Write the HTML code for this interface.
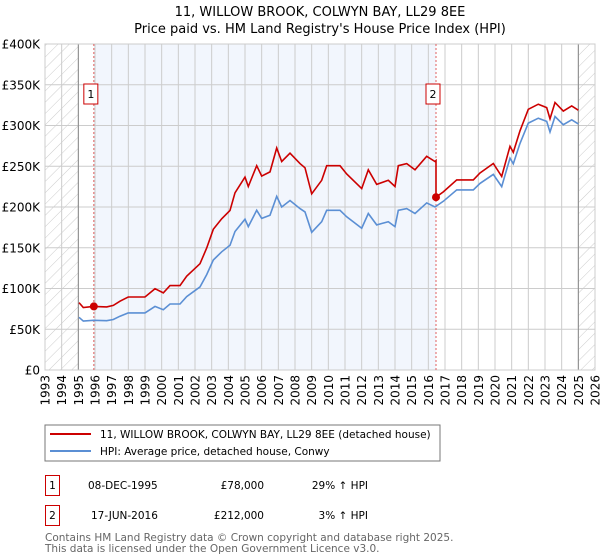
<!DOCTYPE html>
<html><head><meta charset="utf-8"><style>
body{margin:0;background:#fff;font-family:"Liberation Sans","DejaVu Sans",sans-serif;}
#wrap{position:relative;width:600px;height:560px;overflow:hidden;}
svg text{font-family:"DejaVu Sans","Liberation Sans",sans-serif;}
</style></head><body>
<div id="wrap">
<svg id="chart" width="600" height="560" xmlns="http://www.w3.org/2000/svg">
<defs>
<pattern id="hatch" patternUnits="userSpaceOnUse" width="8" height="8" patternTransform="rotate(45)">
<line x1="0" y1="0" x2="0" y2="8" stroke="#ccc" stroke-width="1"/>
</pattern>
</defs>
<text x="320" y="16" text-anchor="middle" font-size="13" fill="#000">11, WILLOW BROOK, COLWYN BAY, LL29 8EE</text>
<text x="320" y="33" text-anchor="middle" font-size="13" fill="#000">Price paid vs. HM Land Registry's House Price Index (HPI)</text>
<g id="plot"></g>
<rect x="45" y="425" width="395" height="36" fill="#fff" stroke="#777"/>
<line x1="50" y1="434" x2="91" y2="434" stroke="#cc0000" stroke-width="2"/>
<text x="100" y="438" font-size="10.5">11, WILLOW BROOK, COLWYN BAY, LL29 8EE (detached house)</text>
<line x1="50" y1="451" x2="91" y2="451" stroke="#5b8fd4" stroke-width="2"/>
<text x="100" y="455" font-size="10.5">HPI: Average price, detached house, Conwy</text>
<g>
<rect x="45.5" y="475.5" width="14" height="20" fill="none" stroke="#cc0000"/>
<text x="52.5" y="489" text-anchor="middle" font-size="10.5">1</text>
<text x="88" y="489" font-size="10.5">08-DEC-1995</text>
<text x="264" y="489" text-anchor="end" font-size="10.5">£78,000</text>
<text x="368" y="489" text-anchor="end" font-size="10.5">29% ↑ HPI</text>
</g>
<g>
<rect x="45.5" y="505.5" width="14" height="20" fill="none" stroke="#cc0000"/>
<text x="52.5" y="519" text-anchor="middle" font-size="10.5">2</text>
<text x="91" y="519" font-size="10.5">17-JUN-2016</text>
<text x="264" y="519" text-anchor="end" font-size="10.5">£212,000</text>
<text x="368" y="519" text-anchor="end" font-size="10.5">3% ↑ HPI</text>
</g>
<text x="45" y="541" font-size="10.5" fill="#666">Contains HM Land Registry data © Crown copyright and database right 2025.</text>
<text x="45" y="552" font-size="10.5" fill="#666">This data is licensed under the Open Government Licence v3.0.</text>
</svg>
</div>
<script>
const hpiYears=[1995.04,1995.3,1995.9,1996.7,1997.1,1997.5,1998.0,1999.0,1999.6,2000.1,2000.5,2001.1,2001.5,2002.1,2002.3,2002.7,2003.1,2003.6,2004.1,2004.4,2005.0,2005.2,2005.7,2006.0,2006.5,2006.9,2007.2,2007.7,2008.3,2008.6,2009.0,2009.6,2009.9,2010.7,2011.1,2012.0,2012.4,2012.9,2013.6,2014.0,2014.2,2014.7,2015.2,2015.9,2016.4,2016.9,2017.7,2018.7,2019.1,2019.9,2020.4,2020.9,2021.1,2021.5,2022.0,2022.6,2023.1,2023.3,2023.6,2024.1,2024.6,2025.0];
const hpiValues=[64.7,60,61,60.5,62,66,70,70,78,74,81,81,90,99,102,117,135,145,153,170,185,176,196,186,190,213,200,208,198,194,169,182,196,196,188,174,192,178,182,176,196,198,192,205,200,207,221,221,229,240,225,260,253,278,303,309,305,292,311,301,307,302];
const saleYears=[1995.93,2016.46];
const salePrices=[78,212];
const yTicks=[0,50,100,150,200,250,300,350,400];
const yTickLabels=["£0","£50K","£100K","£150K","£200K","£250K","£300K","£350K","£400K"];
const xTicks=[1993,1994,1995,1996,1997,1998,1999,2000,2001,2002,2003,2004,2005,2006,2007,2008,2009,2010,2011,2012,2013,2014,2015,2016,2017,2018,2019,2020,2021,2022,2023,2024,2025,2026];

const X0=45,X1=595,Y0=370,Y1=44;
const xs=y=>X0+(y-1993)/(2026-1993)*(X1-X0);
const ys=v=>Y0-v/400*(Y0-Y1);
const NS="http://www.w3.org/2000/svg";
const plot=document.getElementById('plot');
function mk(tag,attrs,parent){const e=document.createElementNS(NS,tag);for(const k in attrs)e.setAttribute(k,attrs[k]);(parent||plot).appendChild(e);return e;}
function interp(yr){if(yr<=hpiYears[0])return hpiValues[0];for(let i=1;i<hpiYears.length;i++){if(yr<=hpiYears[i]){const t=(yr-hpiYears[i-1])/(hpiYears[i]-hpiYears[i-1]);return hpiValues[i-1]+t*(hpiValues[i]-hpiValues[i-1]);}}return hpiValues[hpiValues.length-1];}

const bg=mk('rect',{x:X0,y:Y1,width:X1-X0,height:Y0-Y1,fill:'#fff'});


const shade=mk('rect',{x:xs(saleYears[0]),y:Y1,width:xs(saleYears[1])-xs(saleYears[0]),height:Y0-Y1,fill:'#f2f6fd'});


const h1=mk('rect',{x:X0,y:Y1,width:xs(1995)-X0,height:Y0-Y1,fill:'url(#hatch)'});


const h2=mk('rect',{x:xs(2025),y:Y1,width:X1-xs(2025),height:Y0-Y1,fill:'url(#hatch)'});



yTicks.forEach((v,i)=>{
  const l=mk('line',{x1:X0,x2:X1,y1:ys(v),y2:ys(v),stroke:'#ccc','stroke-width':1});
  
  
  const t=mk('text',{x:40,y:ys(v)+4.5,'text-anchor':'end','font-size':12,fill:'#000'});
  
  
  t.textContent=yTickLabels[i];
});
xTicks.forEach(yr=>{
  const l=mk('line',{x1:xs(yr),x2:xs(yr),y1:Y1,y2:Y0,stroke:'#ccc','stroke-width':1});
  
  
  const t=mk('text',{x:0,y:0,'text-anchor':'end','font-size':12,fill:'#000',transform:`translate(${xs(yr)+4.5},375) rotate(-90)`});
  
  
  t.textContent=yr;
});
[1995,2025].forEach(yr=>{
  const l=mk('line',{x1:xs(yr),x2:xs(yr),y1:Y1,y2:Y0,stroke:'#888','stroke-width':1});
  
  
});
const frame=mk('rect',{x:X0,y:Y1,width:X1-X0,height:Y0-Y1,fill:'none',stroke:'#ccc'});



saleYears.forEach((yr,i)=>{
  const l=mk('line',{x1:xs(yr),x2:xs(yr),y1:Y1,y2:Y0,stroke:'#e06060','stroke-width':1,'stroke-dasharray':'2,2'});
  
  
  const bx=xs(yr)-(i===0?10:10);
  const r=mk('rect',{x:bx,y:84,width:14,height:20,fill:'#fff',stroke:'#cc0000'});
  
  
  const t=mk('text',{x:bx+7,y:98,'text-anchor':'middle','font-size':11});
  
  
  t.textContent=String(i+1);
});

// HPI line
const hp=hpiYears.map((y,i)=>`${xs(y).toFixed(1)},${ys(hpiValues[i]).toFixed(1)}`).join(' ');
const hl=mk('polyline',{points:hp,fill:'none',stroke:'#5b8fd4','stroke-width':1.6});



// Property line: HPI scaled by sale ratios
const f1=salePrices[0]/interp(saleYears[0]);
const f2=salePrices[1]/interp(saleYears[1]);
const pts=[];
hpiYears.forEach((y,i)=>{
  if(y<saleYears[1]) pts.push([y,hpiValues[i]*f1]);
});
pts.push([saleYears[1],interp(saleYears[1])*f1]);
pts.push([saleYears[1],salePrices[1]]);
hpiYears.forEach((y,i)=>{ if(y>saleYears[1]) pts.push([y,hpiValues[i]*f2]); });
const pl=mk('polyline',{points:pts.map(p=>`${xs(p[0]).toFixed(1)},${ys(p[1]).toFixed(1)}`).join(' '),fill:'none',stroke:'#cc0000','stroke-width':1.6});



saleYears.forEach((yr,i)=>{
  const c=mk('circle',{cx:xs(yr),cy:ys(salePrices[i]),r:4,fill:'#cc0000'});
  
  
});
</script>
</body></html>
